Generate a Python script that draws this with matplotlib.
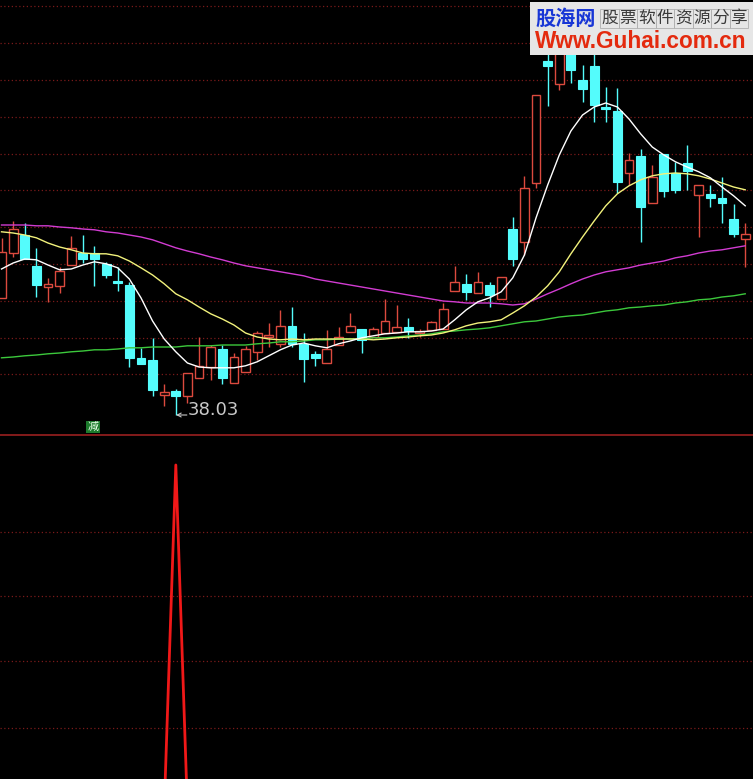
import numpy as np
import matplotlib
matplotlib.use("Agg")
import matplotlib.pyplot as plt
from matplotlib.patches import Rectangle
from matplotlib.lines import Line2D

plt.rcParams["font.family"] = ["Noto Sans CJK SC", "DejaVu Sans"]

# daily OHLC, 65 sessions
opens = [40.96, 42.08, 42.53, 41.76, 41.23, 41.26, 41.78, 42.08, 42.08, 41.81,
         41.38, 41.28, 39.46, 39.41, 38.53, 38.63, 38.51, 38.96, 39.23, 39.68,
         38.83, 39.11, 39.61, 39.98, 39.81, 40.26, 39.81, 39.56, 39.33, 39.78,
         40.11, 40.18, 39.98, 40.08, 40.11, 40.23, 40.08, 40.16, 40.18, 41.13,
         41.31, 41.08, 41.28, 40.93, 42.68, 42.36, 43.83, 46.88, 46.31, 47.21,
         46.41, 46.76, 45.71, 45.63, 44.08, 44.51, 43.33, 44.56, 44.08, 44.33,
         43.53, 43.56, 43.46, 42.93, 42.43]
highs = [42.46, 42.88, 42.83, 42.21, 41.46, 41.73, 42.51, 42.53, 42.26, 41.86,
         41.73, 41.36, 39.71, 39.96, 38.81, 38.68, 39.08, 39.98, 39.78, 39.78,
         39.58, 39.76, 40.13, 40.33, 40.66, 40.73, 40.08, 39.63, 40.16, 40.23,
         40.58, 40.18, 40.23, 40.93, 40.78, 40.46, 40.18, 40.38, 40.83, 41.76,
         41.56, 41.61, 41.36, 41.48, 42.98, 44.01, 46.03, 47.28, 47.36, 47.41,
         46.78, 47.16, 46.23, 46.21, 44.58, 44.68, 44.28, 44.56, 44.36, 44.78,
         43.78, 43.78, 43.98, 43.31, 42.83]
lows = [40.96, 41.98, 41.93, 40.98, 40.86, 41.08, 41.78, 41.83, 41.26, 41.46,
        41.13, 39.23, 39.31, 38.51, 38.26, 38.03, 38.33, 38.96, 38.91, 38.81,
        38.83, 39.11, 39.41, 39.73, 39.73, 39.73, 38.86, 39.26, 39.33, 39.78,
        40.11, 39.58, 39.98, 40.08, 40.11, 39.96, 39.98, 40.16, 40.18, 41.13,
        40.91, 41.08, 40.73, 40.93, 41.76, 42.03, 43.71, 45.76, 46.16, 46.33,
        45.86, 45.36, 45.36, 43.58, 43.78, 42.36, 43.33, 43.48, 43.58, 43.66,
        42.48, 43.23, 42.83, 42.48, 41.73]
closes = [42.11, 42.68, 41.93, 41.28, 41.31, 41.63, 42.21, 41.93, 41.93, 41.53,
          41.33, 39.46, 39.31, 38.66, 38.61, 38.51, 39.08, 39.26, 39.73, 38.96,
          39.48, 39.68, 40.08, 40.03, 40.26, 39.81, 39.43, 39.46, 39.68, 39.98,
          40.26, 39.91, 40.18, 40.38, 40.23, 40.13, 40.13, 40.36, 40.68, 41.36,
          41.11, 41.36, 41.03, 41.48, 41.93, 43.71, 46.03, 46.76, 47.16, 46.66,
          46.18, 45.78, 45.68, 43.86, 44.41, 43.23, 43.98, 43.63, 43.66, 44.13,
          43.78, 43.46, 43.33, 42.56, 42.56]

# moving averages as drawn by the terminal
ma_white = [41.68, 41.83, 41.93, 41.91, 41.78, 41.66, 41.68, 41.78, 41.86, 41.81,
            41.71, 41.43, 40.96, 40.38, 39.93, 39.61, 39.33, 39.23, 39.21, 39.21,
            39.21, 39.26, 39.36, 39.51, 39.66, 39.78, 39.83, 39.76, 39.71, 39.81,
            39.88, 39.96, 40.01, 40.06, 40.08, 40.11, 40.11, 40.13, 40.18, 40.41,
            40.66, 40.86, 40.96, 41.11, 41.46, 42.03, 42.96, 43.78, 44.53, 45.13,
            45.53, 45.73, 45.83, 45.73, 45.43, 45.06, 44.73, 44.53, 44.36, 44.23,
            44.11, 43.96, 43.73, 43.51, 43.26]
ma_yellow = [42.61, 42.58, 42.53, 42.46, 42.33, 42.23, 42.16, 42.08, 42.06, 42.06,
             42.01, 41.88, 41.71, 41.53, 41.31, 41.06, 40.91, 40.73, 40.56, 40.43,
             40.28, 40.08, 39.98, 39.93, 39.91, 39.93, 39.91, 39.93, 39.93, 39.93,
             39.93, 39.93, 39.91, 39.93, 39.96, 39.98, 40.01, 40.03, 40.08, 40.16,
             40.26, 40.33, 40.36, 40.41, 40.58, 40.76, 40.98, 41.26, 41.61, 42.06,
             42.48, 42.88, 43.26, 43.56, 43.76, 43.91, 44.01, 44.06, 44.08, 44.06,
             44.01, 43.93, 43.83, 43.73, 43.66]
ma_magenta = [42.78, 42.78, 42.78, 42.76, 42.76, 42.73, 42.71, 42.68, 42.66, 42.61,
              42.58, 42.53, 42.48, 42.41, 42.31, 42.21, 42.13, 42.06, 41.98, 41.91,
              41.83, 41.76, 41.71, 41.66, 41.61, 41.56, 41.51, 41.43, 41.38, 41.33,
              41.28, 41.23, 41.18, 41.13, 41.08, 41.03, 40.98, 40.93, 40.88, 40.86,
              40.83, 40.83, 40.83, 40.81, 40.78, 40.81, 40.93, 41.06, 41.18, 41.31,
              41.43, 41.53, 41.61, 41.66, 41.71, 41.78, 41.83, 41.88, 41.96, 42.01,
              42.08, 42.13, 42.16, 42.21, 42.26]
ma_green = [39.46, 39.48, 39.51, 39.53, 39.56, 39.58, 39.61, 39.63, 39.66, 39.66,
            39.68, 39.71, 39.71, 39.73, 39.73, 39.73, 39.76, 39.76, 39.76, 39.78,
            39.78, 39.78, 39.81, 39.83, 39.86, 39.86, 39.88, 39.91, 39.91, 39.93,
            39.93, 39.93, 39.96, 39.96, 39.98, 40.01, 40.03, 40.06, 40.11, 40.13,
            40.16, 40.18, 40.21, 40.26, 40.31, 40.36, 40.38, 40.43, 40.48, 40.51,
            40.53, 40.58, 40.63, 40.66, 40.71, 40.73, 40.76, 40.78, 40.83, 40.86,
            40.91, 40.93, 40.98, 41.01, 41.06]

# lower indicator: fires once at the low
signal = [0, 0, 0, 0, 0, 0, 0, 0, 0, 0,
          0, 0, 0, 0, 0, 1, 0, 0, 0, 0,
          0, 0, 0, 0, 0, 0, 0, 0, 0, 0,
          0, 0, 0, 0, 0, 0, 0, 0, 0, 0,
          0, 0, 0, 0, 0, 0, 0, 0, 0, 0,
          0, 0, 0, 0, 0, 0, 0, 0, 0, 0,
          0, 0, 0, 0, 0]

low_label = "38.03"
logo_cn = "股海网"
logo_slogan = "股票软件资源分享"
logo_url = "Www.Guhai.com.cn"

UP = "#dc4a3e"
DOWN = "#54fcfc"
GRID = "#7a1a1a"
W, H = 753, 779

fig = plt.figure(figsize=(W / 100, H / 100), dpi=100, facecolor="black")
SEP = 435
ax = fig.add_axes([0, 1 - SEP / H, 1, SEP / H], facecolor="black")
ax2 = fig.add_axes([0, 0, 1, (H - SEP - 1) / H], facecolor="black")
for a in (ax, ax2):
    a.set_axis_off()
    a.set_xlim(-0.13, 64.67)

ax.set_ylim(37.53, 48.405)
for k in range(11):
    ax.axhline(48.245 - 0.92 * k, color=GRID, lw=0.9, ls=(0, (1, 2)), zorder=0)

x = np.arange(len(opens))
bw = 0.76
for i in x:
    o, h, l, c = opens[i], highs[i], lows[i], closes[i]
    top, bot = max(o, c), min(o, c)
    if c >= o:
        ax.vlines(i, top, h, color=UP, lw=1, zorder=2)
        ax.vlines(i, l, bot, color=UP, lw=1, zorder=2)
        ax.add_patch(Rectangle((i - bw / 2, bot), bw, max(top - bot, 0.02),
                               facecolor="black", edgecolor=UP, lw=1, zorder=3))
    else:
        ax.vlines(i, l, h, color=DOWN, lw=1, zorder=2)
        ax.add_patch(Rectangle((i - bw / 2, bot), bw, max(top - bot, 0.04),
                               facecolor=DOWN, edgecolor=DOWN, lw=0.8, zorder=3))

ax.plot(x, ma_green, color="#3cc83c", lw=1.0, zorder=4)
ax.plot(x, ma_magenta, color="#d23cd2", lw=1.0, zorder=4)
ax.plot(x, ma_yellow, color="#f2f27c", lw=1.0, zorder=4)
ax.plot(x, ma_white, color="white", lw=1.0, zorder=4)

# low marker: short left arrow to the wick end, then the price
imin = int(np.argmin(lows))
ax.annotate("", xy=(imin + 0.02, lows[imin]), xytext=(imin + 0.95, lows[imin]),
            arrowprops=dict(arrowstyle="->", color="#c8c8c8", lw=0.8,
                            shrinkA=0, shrinkB=0, mutation_scale=7), zorder=5)
ax.text(imin + 1.0, lows[imin] + 0.12, low_label, va="center", ha="left",
        color="#c8c8c8", fontsize=13, family="DejaVu Sans", zorder=5)

fig.text(93 / W, 1 - 427 / H, "减", color="#e8ffe8", fontsize=8, ha="center", va="center",
         bbox=dict(boxstyle="square,pad=0.12", facecolor="#1c7a2c", edgecolor="none"))

fig.add_artist(Line2D([0, 1], [1 - SEP / H] * 2, transform=fig.transFigure,
                      color="#9a2020", lw=1.2))

# lower panel
ax2.set_ylim(0.09, 1.084)
for v in (0.806, 0.620, 0.432, 0.238):
    ax2.axhline(v, color=GRID, lw=0.9, ls=(0, (1, 2)), zorder=0)
ax2.plot(x, signal, color="#f01818", lw=2.0, zorder=3)

# watermark logo
lg = fig.add_axes([530 / W, 1 - 55 / H, 223 / W, 53 / H])
lg.set_xlim(530, 753)
lg.set_ylim(55, 2)
lg.set_axis_off()
lg.add_patch(Rectangle((530, 2), 223, 53, facecolor="#e6e6e6", edgecolor="none"))
lg.text(535, 18.5, logo_cn, color="#1836d6", fontsize=14.5, weight="bold",
        ha="left", va="center")
cw = 148 / len(logo_slogan)
for j, ch in enumerate(logo_slogan):
    cx = 600 + cw * j
    lg.add_patch(Rectangle((cx, 9), cw, 19, facecolor="none", edgecolor="#b0b0b0", lw=0.6))
    lg.text(cx + cw / 2, 18.5, ch, color="#3a3a3a", fontsize=12, ha="center", va="center")
lg.text(535, 41.5, logo_url, color="#e42a0e", fontsize=16.3, weight="bold",
        family="Liberation Sans", ha="left", va="center")

fig.savefig("out.png", dpi=100, facecolor="black")
